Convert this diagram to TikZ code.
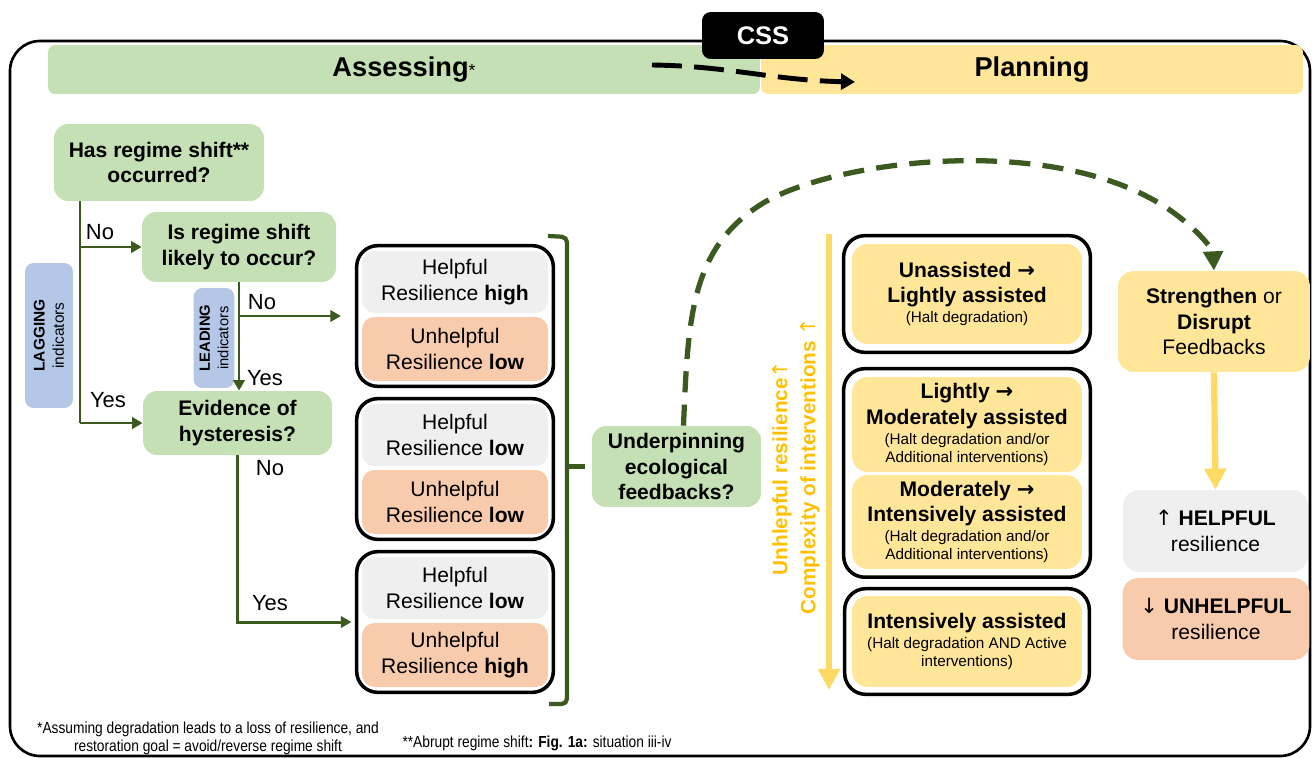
\documentclass[tikz,border=0pt]{standalone}
\usepackage{fontspec}
\setmainfont{Liberation Sans}
\newfontfamily\narrowfont[FakeStretch=0.86]{Liberation Sans}
\newfontfamily\arrowfont{DejaVu Sans}
\usepackage{xcolor}
\usetikzlibrary{positioning,fit,arrows.meta}
\definecolor{boxgreen}{HTML}{C5E0B4}
\definecolor{boxyellow}{HTML}{FFE699}
\definecolor{boxgray}{HTML}{EFEFEF}
\definecolor{boxorange}{HTML}{F8CBAD}
\definecolor{boxblue}{HTML}{B4C7E7}
\definecolor{darkgreen}{HTML}{3B5A1F}
\definecolor{arrowyellow}{HTML}{FFD966}
\definecolor{textorange}{HTML}{FFC000}
\newcommand{\bodyfont}{\fontsize{12}{14.5}\selectfont}
\newcommand{\smallfont}{\fontsize{8.7}{10.4}\selectfont}
\newcommand{\ra}{{\arrowfont\bfseries →}}
\newcommand{\up}{{\arrowfont\mdseries ↑}}
\newcommand{\down}{{\arrowfont\mdseries ↓}}
\tikzset{
	greenbox/.style={rectangle, fill=boxgreen, rounded corners=8pt, align=center, font=\bodyfont\bfseries},
	yellowbox/.style={rectangle, fill=boxyellow, rounded corners=9pt, align=center, font=\bodyfont},
	graybox/.style={rectangle, fill=boxgray, rounded corners=7pt, align=center, font=\bodyfont, minimum width=3.72cm, minimum height=1.24cm},
	orangebox/.style={rectangle, fill=boxorange, rounded corners=7pt, align=center, font=\bodyfont, minimum width=3.72cm, minimum height=1.28cm},
	bluebox/.style={rectangle, fill=boxblue, rounded corners=5pt, align=center, rotate=90, font=\fontsize{8.8}{11}\selectfont},
	groupbox/.style={rectangle, draw=black, line width=2pt, rounded corners=12pt, inner sep=0.1cm},
	planbox/.style={rectangle, fill=boxyellow, rounded corners=9pt, align=center, font=\bodyfont, minimum width=4.6cm},
	yesno/.style={font=\fontsize{12.5}{15}\selectfont, inner sep=0pt},
	vlabel/.style={rotate=90, text=textorange, font=\fontsize{11.8}{14}\selectfont\bfseries, inner sep=0pt},
	garrow/.style={darkgreen, line width=1.7pt, -{Triangle[length=6pt,width=6.5pt]}},
	gline/.style={darkgreen, line width=1.7pt},
	bracket/.style={darkgreen, line width=2.4pt},
	yarrow/.style={arrowyellow, line width=3.6pt, -{Triangle[length=12pt,width=12pt]}},
	greendash/.style={darkgreen, line width=3pt, dash pattern=on 12pt off 7pt, -{Triangle[length=11pt,width=11pt]}},
	blackdash/.style={black, line width=2.8pt, dash pattern=on 17pt off 7pt, -{Triangle[length=8pt,width=9pt]}}
}

\begin{document}
\begin{tikzpicture}[x=0.02cm, y=-0.02cm]
	\useasboundingbox (0,0) rectangle (1313,758);
	
	%frame
	\draw[line width=1.5pt, rounded corners=0.6cm] (10,41) rectangle (1310,756);
	
	%header
	\node[rectangle, fill=boxgreen, rounded corners=4pt, minimum width=14.24cm, minimum height=0.98cm, font=\fontsize{15.5}{18}\selectfont\bfseries] at (404,69.5) (assess) {Assessing{\fontsize{10}{10}\selectfont\mdseries *}};
	\node[rectangle, fill=boxyellow, rounded corners=4pt, minimum width=10.84cm, minimum height=0.98cm, font=\fontsize{15.5}{18}\selectfont\bfseries] at (1032,69.5) (plan) {Planning};
	\node[rectangle, fill=black, text=white, rounded corners=5pt, minimum width=2.44cm, minimum height=0.94cm, font=\fontsize{14.5}{17}\selectfont\bfseries] at (763,35.5) (css) {CSS};
	\coordinate (cssA) at (652,65);
	\coordinate (cssB) at (855,82);
	
	%assessing
	\node[greenbox, minimum width=4.2cm, minimum height=1.54cm] at (159,162.5) (has) {Has regime shift**\\occurred?};
	\node[greenbox, minimum width=3.88cm, minimum height=1.4cm] at (239,247) (likely) {Is regime shift\\likely to occur?};
	\node[greenbox, minimum width=3.78cm, minimum height=1.28cm] at (237.5,423) (hyst) {Evidence of\\hysteresis?};
	\node[bluebox, minimum width=2.9cm, minimum height=0.96cm] at (49,335.5) (lag) {\textbf{LAGGING}\\indicators};
	\node[bluebox, minimum width=2.0cm, minimum height=0.72cm, font=\fontsize{8.4}{10.6}\selectfont] at (214,338) (lead) {\textbf{LEADING}\\indicators};
	
	\node[graybox] at (455,282) (g1a) {Helpful\\Resilience \textbf{high}};
	\node[orangebox] at (455,349) (g1b) {Unhelpful\\Resilience \textbf{low}};
	\node[graybox] at (455,435) (g2a) {Helpful\\Resilience \textbf{low}};
	\node[orangebox] at (455,502) (g2b) {Unhelpful\\Resilience \textbf{low}};
	\node[graybox] at (455,588) (g3a) {Helpful\\Resilience \textbf{low}};
	\node[orangebox] at (455,655) (g3b) {Unhelpful\\Resilience \textbf{high}};
	\node[groupbox, fit=(g1a)(g1b)] (g1) {};
	\node[groupbox, fit=(g2a)(g2b)] (g2) {};
	\node[groupbox, fit=(g3a)(g3b)] (g3) {};
	
	\node[greenbox, minimum width=3.38cm, minimum height=1.62cm] at (676.5,466.5) (under) {Underpinning\\ecological\\feedbacks?};
	
	%planning
	\node[planbox, minimum height=2.0cm] at (967,294) (pa) {\textbf{Unassisted \ra}\\\textbf{Lightly assisted}\\[-3.2pt]{\smallfont (Halt degradation)}};
	\node[planbox, minimum height=1.9cm] at (967,424.5) (pb) {\textbf{Lightly \ra}\\\textbf{Moderately assisted}\\[-3.2pt]{\smallfont (Halt degradation and/or}\\[-4.1pt]{\smallfont Additional interventions)}};
	\node[planbox, minimum height=1.8cm] at (967,522) (pc) {\textbf{Moderately \ra}\\\textbf{Intensively assisted}\\[-3.2pt]{\smallfont (Halt degradation and/or}\\[-4.1pt]{\smallfont Additional interventions)}};
	\node[planbox, minimum height=1.82cm] at (967,641.5) (pd) {\textbf{Intensively assisted}\\[-3.2pt]{\smallfont (Halt degradation AND Active}\\[-4.1pt]{\smallfont interventions)}};
	\node[groupbox, fit=(pa), inner sep=0.16cm] (pA) {};
	\node[groupbox, fit=(pb)(pc), inner sep=0.16cm] (pB) {};
	\node[groupbox, fit=(pd), inner sep=0.14cm] (pC) {};
	
	\node[vlabel] at (782,468) (unhl) {Unhlepful resilience\up};
	\node[vlabel] at (810,466) (compl) {Complexity of interventions \up};
	\coordinate (ytop) at (829,234);
	\coordinate (ybot) at (829,690);
	
	\node[yellowbox, minimum width=3.84cm, minimum height=2.02cm] at (1214,321.5) (stren) {\textbf{Strengthen} or\\\textbf{Disrupt}\\Feedbacks};
	\node[graybox, rounded corners=9pt, minimum width=3.7cm, minimum height=1.64cm] at (1215.5,531) (helpful) {\up\ \textbf{HELPFUL}\\resilience};
	\node[orangebox, rounded corners=9pt, minimum width=3.74cm, minimum height=1.64cm] at (1216,619) (unhelpful) {\down\ \textbf{UNHELPFUL}\\resilience};
	
	%labels
	\node[yesno] at (100,232) (no1) {No};
	\node[yesno] at (108,400) (yes1) {Yes};
	\node[yesno] at (262,302) (no2) {No};
	\node[yesno] at (265,378) (yes2) {Yes};
	\node[yesno] at (270,468) (no3) {No};
	\node[yesno] at (270,603) (yes3) {Yes};
	
	%Lines
	\coordinate (trunk) at (80,0);
	\draw[gline] (has.south -| trunk) -- (trunk |- hyst.west);
	\draw[garrow] (trunk |- likely.west) -- (likely.west);
	\draw[garrow] (trunk |- hyst.west) -- (hyst.west);
	\draw[garrow] (likely.south) -- (likely.south |- hyst.north);
	\draw[garrow, shorten >=8pt] (likely.south |- g1.west) -- (g1.west);
	\draw[garrow, shorten >=2pt] (hyst.south) |- (g3.west);
	
	\coordinate (brT) at (548,236);
	\coordinate (brTR) at (567,237);
	\coordinate (brBR) at (567,704);
	\coordinate (brB) at (549,704);
	\draw[bracket, rounded corners=3pt] (brT) -- (brTR) -- (brBR) -- (brB);
	\draw[bracket, shorten >=4pt] (brTR |- under.west) -- (under.west);
	
	\draw[greendash] ([xshift=0.14cm]under.north) .. controls (688,320) and (690,250) .. (760,205) .. controls (830,160) and (1060,130) .. (1174,213) .. controls (1200,232) and (1213,250) .. (stren.north);
	\draw[blackdash] (cssA) .. controls (730,66) and (770,80) .. (cssB);
	\draw[yarrow] (ytop) -- (ybot);
	\draw[yarrow] (stren.south) -- (helpful.north);
	
	%notes
	\node[align=center, font=\narrowfont\fontsize{9.1}{10.2}\selectfont] at (208,738) (note1) {*Assuming degradation leads to a loss of resilience, and\\restoration goal = avoid/reverse regime shift};
	\node[font=\narrowfont\fontsize{9.1}{10.2}\selectfont] at (537,743) (note2) {**Abrupt regime shift\textbf{: Fig. 1a:} situation iii-iv};
\end{tikzpicture}
\end{document}
